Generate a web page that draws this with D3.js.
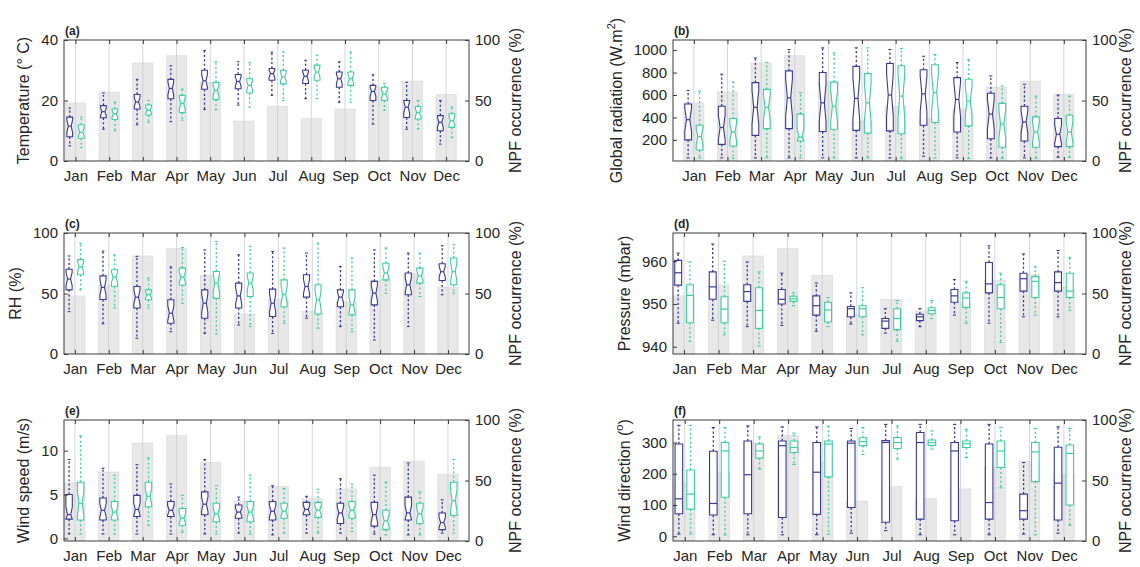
<!DOCTYPE html>
<html>
<head>
<meta charset="utf-8">
<script src="https://cdn.jsdelivr.net/npm/d3@7/dist/d3.min.js"></script>
<style>
  body { margin: 0; background: #ffffff; }
  svg { display: block; font-family: "Liberation Sans", Arial, Helvetica, sans-serif; }
</style>
</head>
<body>
<svg id="chart" width="1140" height="567"></svg>
<script>
// Month categories
const months = ["Jan", "Feb", "Mar", "Apr", "May", "Jun", "Jul", "Aug", "Sep", "Oct", "Nov", "Dec"];

// Monthly NPF event occurrence (%), right axis, same in every panel
const npfOccurrence = [48, 57, 81, 87, 65, 33, 45, 35, 43, 61, 66, 55];

// Box statistics per month: [lower whisker, Q1, median, Q3, upper whisker]
// "Blue" = first group, "Green" = second group
const tempBlue = [[5,8,11.5,14.5,17.5],[10.5,14.3,16.3,18.3,22.5],[12,17.2,19.5,22,27],[13,20.6,24,27,31.5],[17,23.7,26.5,30,36.5],[18.5,23.9,26.3,28.6,32.8],[21.7,26.7,28.9,30.6,36],[20.6,25.6,28,30,33.3],[19.4,24.4,27.2,29.4,32.8],[12.2,20,23,25,28.5],[10.5,14.4,17.8,20,26],[5.6,10,12.8,15,20]];
const tempGreen = [[4.5,7.5,9.5,12,14.5],[10,13.7,15.6,17.2,19.5],[12.8,15.2,16.8,18.5,20],[13.5,16,19,21.7,23.8],[17,20.3,23.3,26,32.8],[17.8,22.5,25,27.2,32.5],[20,25.5,27.8,30,36],[20.6,26.7,29.4,31.7,35],[19.4,25,27.2,29.4,36],[16.7,20,22.2,24.4,25.6],[10.6,13.9,16,18,20],[7.8,11.1,13.3,15.6,17.8]];

const radBlue = [[40,200,380,520,640],[40,160,310,500,785],[40,240,490,710,930],[40,300,575,815,1005],[40,275,530,800,1020],[40,285,570,855,1020],[40,280,600,880,1005],[55,330,610,825,945],[40,270,560,755,890],[40,210,430,615,770],[40,190,360,500,695],[45,140,250,390,600]];
const radGreen = [[40,110,230,330,635],[35,145,270,390,715],[40,300,490,650,890],[40,190,225,430,620],[40,295,500,715,975],[40,260,530,790,1020],[35,255,590,860,1015],[40,355,620,870,960],[35,325,545,740,915],[35,135,340,525,680],[35,135,270,405,590],[45,140,270,420,590]];

const rhBlue = [[35,53,62,70,81],[25,45,55,64.6,85],[13,38,47,55.8,80.7],[18.5,25.4,33.7,44.8,72],[17,29.6,42,53,86],[24,38,48,58.6,82],[17,31,42,53.6,84.8],[29.6,47,55.8,65.5,83.4],[22.7,39,47,53,72.4],[11.6,40.6,50.3,60,86],[22.7,49,57.2,67,83.4],[49,60.8,68,74.6,89.5]];
const rhGreen = [[53,65.5,72,78,91.5],[38,56,63.5,69.6,82],[38,44.8,49,53,62.7],[42,57,63.5,71,88],[16.6,46,58.6,68.2,93],[22.7,47.5,58.6,67,89],[25.4,39,49,61.3,87.6],[21.3,33,44.8,57.2,91.7],[18.5,32.3,40.6,53,79.3],[50.3,61.3,67,75,87.6],[47.5,58.6,64.6,71,83.4],[50.3,57.2,68,79.3,90.3]];

const presBlue = [[945.5,954.4,957.3,960.2,961.9],[946.2,951.1,954,957.5,964],[944.7,950.6,952.9,954.5,959.8],[945,950,951.1,953.4,957.2],[943.6,947.4,949.6,951.9,954.9],[945.3,947,948.9,949.4,952.6],[943.2,944.3,946,946.6,948.9],[944.7,946.1,947,947.6,948.9],[947.4,950.4,951.9,953.4,955.7],[945.5,952.6,954.7,959.7,963.6],[947,953,955.9,957.2,961.7],[947,953,955,957.5,962.5]];
const presGreen = [[941.3,945.6,952,954.5,959.8],[942.8,945.6,948.8,951.7,960],[940.2,944.3,948.5,953.8,957.5],[949.6,950.6,951.2,951.8,952.6],[944.7,945.8,948.6,950.4,951.5],[942.8,947,948.9,949.6,953.8],[941.3,944,946.6,948.9,950.8],[946.6,947.7,948.5,949.1,950.8],[945.5,949.2,951.4,952.6,955.3],[941,948.9,951.5,954.5,957.2],[947.4,951.5,955.3,956.4,958.7],[948.5,951.5,953,957.2,960.9]];

const wsBlue = [[0.5,2.2,2.7,5,9],[0.5,2.1,3.2,4.6,8],[0.5,2.5,3.3,4.9,8.4],[0.5,2.5,3.2,4.2,6.2],[0.5,2.7,3.9,5.3,9],[0.6,2.3,3,3.8,4.7],[0.4,2.1,3.1,4.2,6],[0.6,2.7,3.3,4.1,4.8],[0.6,1.7,2.9,4,6.8],[0.5,1.4,2.7,4.1,7.2],[0.4,2.1,2.9,4.7,8.6],[0.6,1,1.8,2.9,4.4]];
const wsGreen = [[0.5,2.1,4,6.4,11.7],[0.5,2.1,3,4.2,7.2],[1.5,3.6,4.8,6.4,9.2],[0.7,1.5,2.3,3.4,4.9],[0.5,1.9,2.8,4,6],[0.5,1.9,3,4.2,7.2],[0.6,2.3,3.1,4,5.7],[0.6,2.4,3.2,4.1,5.6],[0.8,2.3,3.2,4.2,6.2],[0.4,1,2,3.2,6.4],[0.4,1.7,2.8,4,5.3],[0.6,2.6,4.3,6.4,9]];

const wdBlue = [[7,72,120,295,355],[5,68,105,272,348],[5,72,197,305,353],[5,60,290,305,350],[5,70,205,300,350],[10,92,298,305,345],[18,45,300,306,358],[5,55,300,332,358],[5,50,273,300,358],[5,55,108,295,358],[7,55,82,135,236],[10,52,170,285,350]];
const wdGreen = [[7,87,135,212,355],[5,125,273,300,348],[215,250,273,295,318],[230,268,284,305,330],[7,190,295,305,352],[262,290,303,315,348],[247,281,300,316,353],[279,291,300,308,337],[252,284,296,305,342],[155,220,273,305,348],[5,175,270,300,345],[35,100,265,292,345]];

// Left-axis tick values per panel
const tempTicks = [0, 20, 40];
const radTicks = [200, 400, 600, 800, 1000];
const rhTicks = [0, 50, 100];
const presTicks = [940, 950, 960];
const wsTicks = [0, 5, 10];
const wdTicks = [0, 100, 200, 300];
const npfTicks = [0, 50, 100];

const BLUE = "#3a3a96";
const GREEN = "#3ccf9e";
const AXIS = "#262626";

const panels = [
  { tag: "(a)", label: [["Temperature (° C)"]], blue: tempBlue, green: tempGreen, ticks: tempTicks,
    domain: [0, 40], x0: 64, x1: 469, y0: 40, y1: 161, xlim: [0.66, 12.68], notch: true, boxW: 0.17, rOff: 52 },
  { tag: "(b)", label: [["Global radiation (W.m"], ["2", "sup"], [")"]], blue: radBlue, green: radGreen, ticks: radTicks,
    domain: [12, 1090], x0: 673, x1: 1086, y0: 40, y1: 161, xlim: [0.38, 12.66], notch: true, boxW: 0.2, rOff: 45 },
  { tag: "(c)", label: [["RH (%)"]], blue: rhBlue, green: rhGreen, ticks: rhTicks,
    domain: [0, 100], x0: 64, x1: 469, y0: 233, y1: 354, xlim: [0.68, 12.62], notch: true, boxW: 0.18, rOff: 52 },
  { tag: "(d)", label: [["Pressure (mbar)"]], blue: presBlue, green: presGreen, ticks: presTicks,
    domain: [938.3, 966.6], x0: 673, x1: 1086, y0: 233, y1: 354, xlim: [0.68, 12.64], notch: false, boxW: 0.2, rOff: 45 },
  { tag: "(e)", label: [["Wind speed (m/s)"]], blue: wsBlue, green: wsGreen, ticks: wsTicks,
    domain: [-0.3, 13.5], x0: 64, x1: 469, y0: 420, y1: 541, xlim: [0.68, 12.62], notch: true, boxW: 0.19, rOff: 52 },
  { tag: "(f)", label: [["Wind direction ("], ["o", "sup"], [")"]], blue: wdBlue, green: wdGreen, ticks: wdTicks,
    domain: [-15, 372], x0: 673, x1: 1086, y0: 420, y1: 541, xlim: [0.66, 12.64], notch: false, boxW: 0.22, rOff: 45 }
];

const svg = d3.select("#chart");

function drawBox(g, stats, cx, halfW, y, notch, color, dash) {
  const [lo, q1, med, q3, hi] = stats;
  const L = cx - halfW, R = cx + halfW;
  const inset = halfW * 0.5;
  let d;
  let mL = L, mR = R;
  if (notch) {
    const k = 0.32 * (q3 - q1);
    const nt = Math.min(q3, med + k), nb = Math.max(q1, med - k);
    d = `M${L},${y(q3)}H${R}V${y(nt)}L${R - inset},${y(med)}L${R},${y(nb)}V${y(q1)}H${L}V${y(nb)}L${L + inset},${y(med)}L${L},${y(nt)}Z`;
    mL = L + inset; mR = R - inset;
  } else {
    d = `M${L},${y(q3)}H${R}V${y(q1)}H${L}Z`;
  }
  // whiskers
  g.append("line").attr("x1", cx).attr("x2", cx).attr("y1", y(q3)).attr("y2", y(hi))
    .attr("stroke", color).attr("stroke-width", 1.3).attr("stroke-dasharray", dash);
  g.append("line").attr("x1", cx).attr("x2", cx).attr("y1", y(q1)).attr("y2", y(lo))
    .attr("stroke", color).attr("stroke-width", 1.3).attr("stroke-dasharray", dash);
  [lo, hi].forEach(v => {
    g.append("line").attr("x1", cx - halfW * 0.45).attr("x2", cx + halfW * 0.45)
      .attr("y1", y(v)).attr("y2", y(v)).attr("stroke", color).attr("stroke-width", 1.1);
  });
  g.append("path").attr("d", d).attr("fill", "#ffffff").attr("stroke", color).attr("stroke-width", 1.1);
  g.append("line").attr("x1", mL).attr("x2", mR).attr("y1", y(med)).attr("y2", y(med))
    .attr("stroke", color).attr("stroke-width", 1.2);
}

panels.forEach(p => {
  const g = svg.append("g");
  const x = d3.scaleLinear().domain(p.xlim).range([p.x0, p.x1]);
  const y = d3.scaleLinear().domain(p.domain).range([p.y1, p.y0]);
  const yR = d3.scaleLinear().domain([0, 100]).range([p.y1, p.y0]);
  const monthIdx = d3.range(1, 13);

  const clipId = "clip" + p.tag.replace(/[()]/g, "");
  svg.append("clipPath").attr("id", clipId).append("rect")
    .attr("x", p.x0).attr("y", p.y0).attr("width", p.x1 - p.x0).attr("height", p.y1 - p.y0);
  const inner = g.append("g").attr("clip-path", `url(#${clipId})`);

  // NPF occurrence bars (right axis)
  inner.selectAll("rect.bar").data(npfOccurrence).join("rect")
    .attr("class", "bar")
    .attr("x", (d, i) => x(i + 1 - 0.3))
    .attr("width", x(1.3) - x(0.7))
    .attr("y", d => yR(d))
    .attr("height", d => yR(0) - yR(d))
    .attr("fill", "#e8e8e8")
    .attr("stroke", "#d8d8d8")
    .attr("stroke-width", 0.6);

  // vertical month grid lines
  inner.selectAll("line.grid").data(monthIdx).join("line")
    .attr("class", "grid")
    .attr("x1", d => x(d)).attr("x2", d => x(d))
    .attr("y1", p.y0).attr("y2", p.y1)
    .attr("stroke", "#cccccc").attr("stroke-width", 0.8);

  // box plots
  const halfW = (x(1 + p.boxW) - x(1)) / 2;
  const off = 0.17;
  monthIdx.forEach((m, i) => {
    drawBox(inner, p.blue[i], x(m - off), halfW, y, p.notch, BLUE, "2.2,2.2");
    drawBox(inner, p.green[i], x(m + off), halfW, y, p.notch, GREEN, "2,2.4");
  });

  // axes
  const axStyle = sel => {
    sel.selectAll("path.domain").remove();
    sel.selectAll(".tick line").attr("stroke", AXIS).attr("stroke-width", 0.9);
    sel.selectAll(".tick text").attr("fill", AXIS).attr("font-size", 15)
      .attr("font-family", "'Liberation Sans', Arial, sans-serif");
  };
  g.append("g").attr("transform", `translate(0,${p.y1})`)
    .call(d3.axisBottom(x).tickValues(monthIdx).tickFormat(d => months[d - 1])
      .tickSizeInner(-4).tickSizeOuter(0).tickPadding(9))
    .call(axStyle);
  g.append("g").attr("transform", `translate(0,${p.y0})`)
    .call(d3.axisTop(x).tickValues(monthIdx).tickFormat("")
      .tickSizeInner(-4).tickSizeOuter(0))
    .call(axStyle);
  const leftAx = g.append("g").attr("transform", `translate(${p.x0},0)`)
    .call(d3.axisLeft(y).tickValues(p.ticks).tickFormat(d3.format("d"))
      .tickSizeInner(-4).tickSizeOuter(0).tickPadding(6))
    .call(axStyle);
  g.append("g").attr("transform", `translate(${p.x1},0)`)
    .call(d3.axisRight(yR).tickValues(npfTicks).tickFormat(d3.format("d"))
      .tickSizeInner(-4).tickSizeOuter(0).tickPadding(6))
    .call(axStyle);

  // frame
  g.append("rect").attr("x", p.x0).attr("y", p.y0)
    .attr("width", p.x1 - p.x0).attr("height", p.y1 - p.y0)
    .attr("fill", "none").attr("stroke", "#3c3c3c").attr("stroke-width", 1);

  // panel tag
  g.append("text").attr("x", p.x0 + 1).attr("y", p.y0 - 5)
    .attr("font-size", 12).attr("font-weight", "bold").attr("fill", AXIS).text(p.tag);

  // left axis label, placed left of the widest tick label
  let maxW = 0;
  leftAx.selectAll(".tick text").each(function () { maxW = Math.max(maxW, this.getBBox().width); });
  const lx = p.x0 - 6 - maxW - 12;
  const cy = (p.y0 + p.y1) / 2;
  const lt = g.append("text").attr("transform", `translate(${lx},${cy}) rotate(-90)`)
    .attr("text-anchor", "middle").attr("font-size", 16).attr("fill", AXIS);
  p.label.forEach(([t, kind]) => {
    const ts = lt.append("tspan").text(t);
    if (kind === "sup") ts.attr("font-size", 11).attr("dy", -7);
    else if (lt.selectAll("tspan").size() > 1) ts.attr("dy", 7);
  });

  // right axis label
  g.append("text").attr("transform", `translate(${p.x1 + p.rOff},${cy}) rotate(-90)`)
    .attr("text-anchor", "middle").attr("font-size", 16).attr("fill", AXIS)
    .text("NPF occurrence (%)");
});
</script>
</body>
</html>
